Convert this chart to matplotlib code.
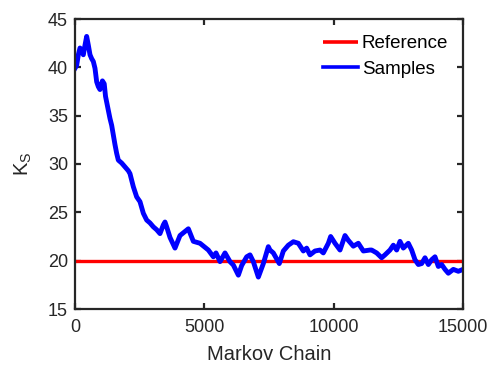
import matplotlib
matplotlib.use("Agg")
import matplotlib.pyplot as plt

plt.rcParams['font.family'] = ['Liberation Sans', 'DejaVu Sans']
plt.rcParams['mathtext.fontset'] = 'custom'
plt.rcParams['mathtext.rm'] = 'Liberation Sans'
plt.rcParams['mathtext.it'] = 'Liberation Sans'

# ---- data ----
sample_index = [0, 64, 129, 193, 258, 322, 387, 451, 515, 580, 644, 709, 773, 838,
                902, 966, 1060, 1130, 1180, 1240, 1300, 1353, 1418, 1482, 1546, 1611,
                1675, 1804, 1933, 2062, 2126, 2255, 2384, 2513, 2642, 2771, 2900,
                3028, 3157, 3286, 3415, 3479, 3544, 3673, 3866, 4059, 4382, 4575,
                4832, 5155, 5348, 5451, 5606, 5799, 5992, 6121, 6315, 6444, 6637,
                6766, 6894, 7088, 7281, 7474, 7538, 7667, 7899, 8054, 8247, 8441,
                8634, 8827, 8956, 9085, 9278, 9472, 9600, 9794, 9884, 10051, 10245,
                10438, 10567, 10760, 10953, 11147, 11404, 11469, 11662, 11855, 11984,
                12178, 12307, 12435, 12564, 12693, 12886, 13015, 13144, 13273, 13402,
                13531, 13660, 13789, 13917, 14046, 14175, 14304, 14433, 14626, 14819,
                15000]
sample_value = [39.9, 40.2, 41.3, 42.0, 41.8, 41.3, 42.3, 43.2, 42.3, 41.3, 40.9, 40.6,
                39.9, 38.5, 38.0, 37.7, 38.6, 38.3, 37.0, 36.2, 35.4, 34.7, 34.0, 33.0,
                32.0, 31.1, 30.4, 30.1, 29.7, 29.3, 29.0, 27.65, 26.6, 26.1, 24.9, 24.2,
                23.9, 23.5, 23.2, 22.8, 23.7, 24.0, 23.5, 22.4, 21.3, 22.6, 23.3, 22.0,
                21.8, 21.1, 20.4, 20.8, 19.9, 20.8, 19.9, 19.55, 18.5, 19.5, 20.4, 20.6,
                19.9, 18.3, 19.7, 21.45, 21.1, 20.8, 19.7, 21.0, 21.6, 21.96, 21.8, 21.0,
                21.3, 20.6, 21.0, 21.1, 20.8, 21.8, 22.5, 21.8, 21.1, 22.6, 22.1, 21.5,
                21.8, 21.0, 21.1, 21.1, 20.8, 20.3, 20.6, 21.1, 21.6, 21.1, 22.0, 21.3,
                21.8, 21.1, 20.1, 19.6, 19.7, 20.3, 19.6, 20.1, 20.4, 19.4, 19.6, 19.1,
                18.7, 19.1, 18.9, 19.1]
reference_value = 20
x_ticks = [0, 5000, 10000, 15000]
y_ticks = [15, 20, 25, 30, 35, 40, 45]
x_label = "Markov Chain"
y_label = r"$\mathrm{K_S}$"
legend_labels = ["Reference", "Samples"]

dark = '#262626'

fig = plt.figure(figsize=(4.92, 3.65), dpi=100)
ax = fig.add_axes([75/492, 1 - 309/365, 388/492, 290/365])

ax.plot([x_ticks[0], x_ticks[-1]], [reference_value, reference_value],
        color=(1, 0, 0), lw=2.4, label=legend_labels[0], solid_capstyle='butt')
ax.plot(sample_index, sample_value, color=(0, 0, 1), lw=3.5,
        label=legend_labels[1], solid_joinstyle='round')

ax.set_xlim(x_ticks[0], x_ticks[-1])
ax.set_ylim(y_ticks[0], y_ticks[-1])
ax.set_xticks(x_ticks)
ax.set_yticks(y_ticks)

for s in ax.spines.values():
    s.set_linewidth(1.6)
    s.set_color(dark)

ax.tick_params(direction='in', length=4, width=1.6, colors=dark,
               labelsize=13, top=True, right=True)
ax.tick_params(axis='x', pad=7.5)
ax.tick_params(axis='y', pad=5)
for lab in ax.get_xticklabels() + ax.get_yticklabels():
    lab.set_color(dark)

ax.set_xlabel(x_label, fontsize=14.5, color=dark, labelpad=6.5)
ax.set_ylabel(y_label, fontsize=14.5, color=dark, labelpad=10)

leg = ax.legend(loc='upper left', bbox_to_anchor=(0.638, 0.945), frameon=False,
                fontsize=13.5, handlelength=1.9, handletextpad=0.2,
                labelspacing=0.45, borderpad=0, borderaxespad=0)
for t in leg.get_texts():
    t.set_color('black')
for h in leg.legend_handles:
    h.set_linewidth(2.6)

fig.savefig("out.png", dpi=100)
